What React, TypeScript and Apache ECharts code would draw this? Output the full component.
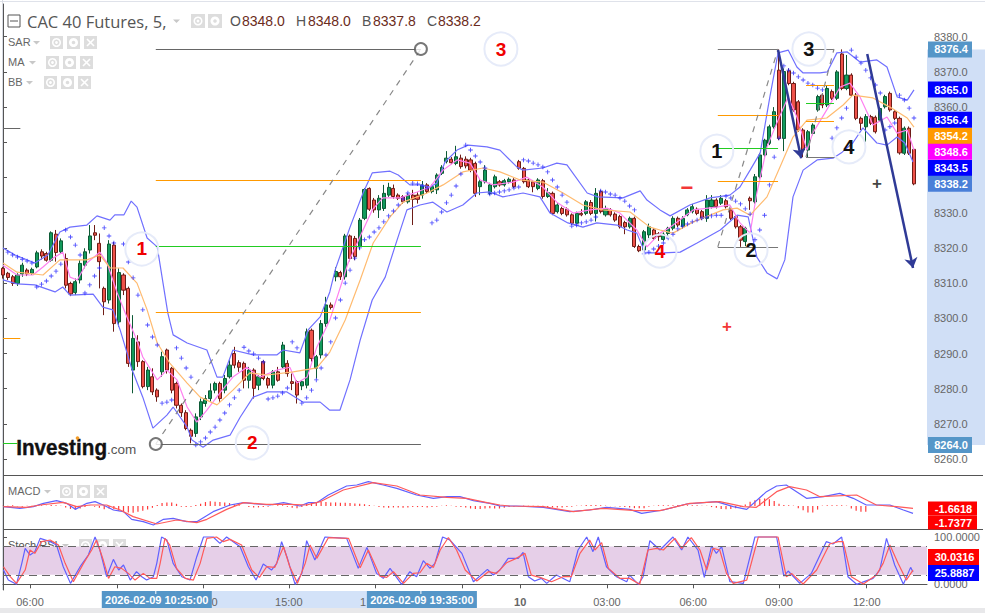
import React, { useEffect, useRef } from "react";
import * as echarts from "echarts";

// one candle = one slot on the time axis: [open, close, low, high]
const candles = [
[8314.2,8312.3,8311.3,8314.6],[8312.8,8311.6,8310.9,8313.2],[8311.8,8309.9,8309.2,8312.3],[8309.9,8312.3,8309.2,8312.8],[8312.6,8315.1,8311.8,8315.8],
[8313.7,8312.6,8312.0,8314.2],[8312.8,8313.9,8312.3,8314.4],[8314.6,8318.6,8314.2,8319.2],[8318.9,8317.7,8316.7,8319.6],[8318.4,8316.5,8316.1,8318.9],
[8316.5,8324.3,8316.1,8324.7],[8323.9,8318.7,8316.1,8325.1],[8318.9,8322.0,8318.4,8322.7],[8317.0,8309.4,8308.5,8318.4],[8309.9,8306.9,8306.3,8310.4],
[8307.3,8310.4,8306.6,8311.3],[8310.9,8315.6,8309.9,8316.5],[8315.1,8318.9,8314.2,8319.9],[8319.4,8323.4,8318.4,8326.5],[8324.3,8323.6,8322.2,8326.5],
[8321.3,8316.1,8308.5,8324.1],[8308.5,8304.7,8300.9,8309.0],[8305.2,8321.1,8304.2,8322.2],[8320.8,8298.5,8296.2,8321.7],[8299.0,8313.0,8297.6,8314.2],
[8312.3,8308.0,8306.6,8312.8],[8308.5,8287.2,8286.2,8309.0],[8285.3,8294.3,8278.7,8300.9],[8293.3,8287.7,8286.2,8295.2],[8287.7,8280.6,8280.1,8288.1],
[8280.6,8285.3,8279.6,8286.2],[8283.4,8279.1,8278.2,8285.8],[8279.6,8277.7,8276.3,8280.1],[8284.8,8289.1,8283.4,8290.5],[8291.0,8285.3,8284.3,8291.4],
[8285.8,8279.6,8278.7,8286.2],[8281.5,8275.3,8274.4,8282.0],[8275.3,8273.2,8272.0,8275.8],[8273.2,8268.7,8268.2,8273.9],[8268.2,8266.5,8264.5,8268.7],
[8267.3,8272.0,8266.3,8273.0],[8272.0,8276.3,8271.1,8277.2],[8275.8,8277.2,8274.9,8278.2],[8277.2,8279.4,8276.3,8281.5],[8279.6,8281.5,8278.7,8282.0],
[8281.5,8277.2,8276.3,8282.0],[8279.6,8282.9,8278.7,8283.9],[8283.4,8286.7,8282.9,8288.1],[8290.0,8286.7,8285.8,8291.9],[8287.4,8286.1,8284.8,8288.1],
[8287.2,8282.4,8280.1,8287.7],[8282.4,8285.3,8280.1,8286.2],[8285.3,8280.1,8277.2,8285.8],[8281.0,8283.4,8279.6,8283.9],[8287.7,8282.9,8282.4,8288.1],
[8282.9,8281.0,8280.1,8283.4],[8281.0,8284.8,8280.1,8285.3],[8284.8,8282.4,8282.0,8286.2],[8286.2,8292.4,8285.8,8293.3],[8287.2,8284.3,8283.4,8288.1],
[8282.0,8281.5,8279.6,8284.3],[8282.0,8278.2,8275.8,8282.4],[8280.8,8282.0,8279.6,8282.4],[8281.0,8296.2,8280.1,8297.1],[8296.6,8288.6,8287.7,8297.1],
[8285.8,8289.1,8282.9,8289.6],[8289.6,8298.5,8288.6,8299.5],[8298.5,8303.8,8297.6,8306.1],[8303.8,8303.1,8302.5,8304.5],[8311.8,8313.3,8310.5,8314.5],
[8313.0,8311.8,8310.9,8313.5],[8311.8,8323.4,8311.0,8324.0],[8323.4,8317.0,8316.2,8323.8],[8322.7,8317.5,8316.5,8323.4],[8320.4,8327.9,8319.5,8328.5],
[8328.4,8336.6,8327.9,8337.0],[8336.9,8331.0,8330.5,8337.2],[8333.6,8330.8,8330.0,8334.2],[8330.8,8334.1,8328.5,8335.0],[8331.2,8335.5,8330.5,8337.9],
[8335.0,8337.2,8334.5,8338.5],[8336.9,8334.6,8334.0,8338.0],[8335.0,8334.1,8333.6,8335.5],[8334.6,8333.1,8332.5,8335.0],[8333.1,8335.0,8332.6,8335.5],
[8335.0,8333.8,8326.5,8336.5],[8335.0,8333.8,8332.6,8335.8],[8335.0,8337.9,8334.0,8339.0],[8337.9,8336.0,8335.5,8338.4],[8336.0,8337.4,8335.5,8338.0],
[8336.5,8340.7,8335.3,8341.2],[8341.2,8342.9,8340.7,8343.5],[8344.5,8345.5,8344.0,8347.5],[8345.2,8344.2,8343.8,8345.8],[8344.0,8345.9,8343.5,8349.0],
[8345.5,8343.1,8342.5,8346.5],[8345.2,8343.3,8342.6,8346.0],[8345.0,8342.1,8341.5,8345.6],[8344.0,8335.5,8334.5,8344.5],[8337.4,8338.8,8335.0,8339.5],
[8338.8,8342.1,8338.3,8343.5],[8335.5,8337.9,8335.0,8338.5],[8337.4,8340.2,8336.9,8340.8],[8338.8,8337.9,8337.4,8339.3],[8337.9,8339.1,8337.4,8339.6],
[8338.8,8339.5,8338.3,8340.0],[8339.3,8337.4,8337.0,8339.8],[8344.5,8342.6,8342.2,8345.0],[8342.6,8338.8,8338.3,8343.0],[8339.3,8337.4,8337.0,8339.8],
[8338.8,8337.4,8335.8,8339.3],[8336.9,8339.3,8336.4,8339.8],[8339.1,8334.6,8334.0,8339.6],[8334.6,8335.7,8334.2,8337.0],[8335.5,8329.8,8329.3,8336.0],
[8330.3,8332.2,8329.8,8332.7],[8331.2,8329.8,8329.3,8331.7],[8331.0,8329.4,8328.9,8331.5],[8329.4,8327.0,8326.5,8329.8],[8327.0,8329.8,8326.9,8330.3],
[8329.8,8329.4,8329.0,8331.0],[8329.8,8333.1,8329.3,8333.6],[8332.9,8329.8,8329.3,8333.6],[8329.8,8335.5,8327.5,8337.0],[8336.0,8330.3,8329.8,8336.5],
[8329.4,8331.0,8328.9,8332.0],[8330.8,8329.4,8328.9,8331.3],[8329.6,8327.9,8327.4,8330.1],[8328.9,8326.0,8325.5,8329.4],[8327.2,8326.0,8323.9,8327.7],
[8326.0,8328.4,8325.5,8328.9],[8328.4,8320.4,8320.0,8328.9],[8320.4,8319.2,8318.8,8320.9],[8319.4,8324.6,8318.5,8325.1],[8323.7,8326.0,8322.7,8326.9],
[8325.1,8322.7,8322.2,8325.6],[8324.0,8323.2,8322.0,8324.5],[8322.4,8323.9,8322.0,8324.4],[8324.1,8325.6,8323.5,8326.0],[8325.6,8328.4,8325.0,8329.0],
[8328.4,8326.5,8325.9,8328.9],[8326.0,8328.4,8325.5,8329.0],[8329.4,8330.8,8329.0,8331.3],[8330.3,8331.7,8329.8,8332.5],[8331.0,8329.8,8329.3,8331.5],
[8330.3,8328.4,8327.9,8330.8],[8328.4,8333.6,8327.4,8335.0],[8331.7,8333.6,8331.2,8335.0],[8333.6,8331.7,8331.2,8334.1],[8332.7,8334.1,8332.2,8335.0],
[8333.4,8331.7,8331.2,8333.9],[8330.8,8328.4,8327.9,8331.3],[8328.9,8326.0,8325.5,8329.4],[8326.0,8322.2,8320.3,8326.5],[8321.8,8325.6,8320.5,8326.0],
[8334.1,8333.4,8330.8,8334.6],[8333.1,8340.2,8332.6,8341.0],[8340.2,8346.4,8339.7,8347.0],[8346.4,8350.6,8345.9,8351.0],[8349.7,8354.4,8349.2,8355.0],
[8354.4,8358.7,8353.9,8360.0],[8370.5,8351.1,8350.6,8376.4],[8351.1,8370.1,8347.5,8371.0],[8370.3,8366.7,8366.2,8371.0],[8366.7,8359.2,8358.7,8367.2],
[8361.5,8353.5,8353.0,8362.0],[8353.5,8347.8,8345.8,8354.0],[8347.8,8353.0,8345.8,8353.5],[8352.5,8354.9,8352.0,8355.4],[8359.2,8363.0,8358.7,8363.5],
[8363.4,8360.6,8359.7,8364.0],[8360.6,8365.3,8360.0,8366.0],[8364.4,8362.5,8362.0,8365.0],[8362.5,8370.0,8362.0,8370.5],[8375.1,8365.3,8364.8,8376.4],
[8365.3,8369.1,8364.8,8374.8],[8369.1,8363.4,8363.0,8369.6],[8363.4,8356.8,8356.3,8364.0],[8356.8,8355.4,8353.5,8357.3],[8354.4,8357.3,8350.1,8358.0],
[8357.3,8355.4,8354.9,8357.8],[8357.1,8353.0,8352.5,8357.6],[8356.3,8359.6,8355.8,8360.0],[8360.1,8363.0,8359.6,8363.5],[8363.9,8359.2,8358.7,8364.4],
[8358.7,8356.8,8356.3,8359.2],[8356.8,8347.0,8346.5,8357.3],[8346.9,8354.0,8346.4,8354.5],[8354.0,8346.9,8346.4,8354.5],[8348.0,8338.2,8337.8,8348.0],
];

const sarValues = [
null,8318.8,8318.0,8317.4,8316.8,8316.3,8315.7,8308.9,8309.7,8310.6,8312.0,8313.4,8315.4,8325.1,8323.1,8320.8,8318.0,8307.2,8309.5,8312.0,
8314.3,8325.7,8323.4,8321.4,null,8321.1,8316.0,8311.5,8306.6,8302.4,8298.1,8294.7,8292.4,8275.9,8276.2,8276.8,8291.6,8288.7,8285.9,8283.3,
8264.0,8264.9,8266.0,8267.7,8269.1,8271.1,8273.1,8275.4,8277.4,8279.6,8291.8,8290.7,8289.9,8288.7,8287.6,8277.1,8277.4,8277.9,8278.8,8280.2,
8293.3,8291.6,8275.9,8277.4,8279.6,8282.5,8285.9,8289.6,8293.3,8300.1,8305.2,8310.0,8313.7,8317.1,8320.0,8322.3,8323.1,8324.5,8325.7,8327.4,
8329.1,8330.5,8332.2,8333.9,8335.6,8338.4,8338.2,8337.6,8337.0,8327.1,8327.9,8330.2,8332.8,8335.0,8337.6,8341.0,8349.2,8347.8,8346.1,8344.4,
8342.7,8335.3,8335.6,8335.9,8336.2,8336.5,8337.0,8337.3,8345.0,8344.7,8344.1,8343.6,8343.0,8341.6,8339.3,8337.3,8335.0,8333.0,8326.2,8326.5,
8327.1,8327.4,8327.9,8328.8,8336.2,8335.9,8335.3,8335.0,8334.2,8333.3,8331.9,8330.8,null,8318.3,8318.8,8319.7,8320.5,8321.4,8322.8,8323.9,
8325.4,8326.2,8326.8,8327.4,8327.9,8328.5,8328.8,8329.1,8329.3,8329.3,8334.7,8334.2,8333.3,8332.5,8331.1,8329.6,8322.3,8325.1,8329.3,8337.9,
8345.8,8351.2,8371.7,8370.5,8369.7,8368.6,8367.7,8366.8,8366.3,8365.4,8364.9,null,8351.2,8354.1,8356.9,8359.7,8376.2,8374.2,8372.5,8370.5,
8368.3,8366.3,8364.0,8353.5,8354.4,8355.5,8363.4,8362.0,8359.7,8356.9,
];

const bbUpper = [[0,8320.0],[2.5,8318.0],[6.6,8315.7],[9.3,8318.0],[11.8,8324.5],[13.9,8325.9],[17.4,8326.5],[19.5,8329.1],[22.2,8327.9],[23.2,8329.4],[25.1,8329.4],[26.6,8333.3],[27.8,8331.6],[29.9,8322.8],[32,8320.3],[33.2,8310.0],[34.2,8301.5],[35.3,8295.3],[38.2,8293.0],[42.3,8291.0],[44.4,8283.3],[45.6,8283.3],[47.7,8291.0],[51.9,8289.6],[56.8,8289.6],[58.1,8291.0],[61.6,8290.2],[63.3,8296.7],[65.8,8300.4],[67.8,8307.5],[68.9,8313.7],[72,8325.9],[74.7,8335.6],[76.6,8341.3],[80.3,8341.8],[82,8340.7],[84.4,8337.9],[86.5,8337.9],[88.6,8337.3],[90,8338.4],[91.7,8344.4],[94.2,8347.8],[96.5,8349.2],[100.4,8348.7],[103.1,8347.8],[106.6,8343.0],[107.9,8342.1],[112,8342.7],[114.9,8344.1],[117,8343.6],[121.2,8335.6],[123.4,8334.5],[128.6,8334.2],[132.2,8336.2],[133.6,8333.6],[136.3,8330.8],[138.4,8329.1],[142.5,8332.2],[146.7,8334.2],[150.8,8335.0],[152.9,8337.3],[155,8342.1],[157.1,8347.0],[159.1,8362.9],[160.8,8375.4],[162.9,8376.2],[164.7,8371.4],[166,8369.7],[169.5,8369.7],[171,8370.0],[173,8375.4],[175.1,8375.7],[177.8,8372.8],[181.3,8373.4],[183.4,8371.4],[185.5,8362.9],[187.6,8362.0],[189,8364.9]];

const bbLower = [[0,8310.9],[2.9,8309.8],[6.6,8309.5],[10.8,8307.5],[12.4,8308.9],[13.9,8306.6],[18.7,8306.9],[20.7,8303.2],[22.8,8302.4],[24.3,8296.7],[26.8,8285.3],[29,8277.6],[31.1,8268.8],[34,8272.5],[35.3,8274.8],[38.2,8269.1],[39.2,8265.4],[41.5,8263.4],[43.6,8265.4],[47.1,8266.8],[49.2,8271.9],[51.9,8277.6],[54.8,8279.1],[58.9,8279.1],[62.2,8276.2],[65.8,8276.2],[67.8,8273.9],[69.9,8273.9],[72,8282.5],[74.1,8293.8],[76.6,8305.2],[79.3,8311.7],[81.3,8320.3],[83.8,8330.8],[86.5,8332.2],[89.2,8333.0],[92.1,8330.2],[95.4,8332.2],[98.3,8335.6],[101,8335.9],[103.7,8334.5],[107.9,8335.6],[111.4,8334.5],[113.5,8329.9],[117.2,8327.1],[120.3,8325.9],[123.2,8327.1],[127.4,8326.5],[129.5,8325.1],[131.5,8324.2],[133.2,8318.6],[136.9,8318.6],[140.5,8318.8],[144,8321.4],[148.8,8325.1],[152.3,8329.3],[154.6,8328.8],[156.4,8317.4],[158.5,8312.9],[160.6,8311.2],[162.2,8316.6],[163.9,8334.5],[166,8342.1],[168.9,8345.0],[172.2,8345.5],[174.1,8347.2],[176.3,8349.8],[178.4,8354.1],[181.3,8349.8],[183.4,8349.2],[185.5,8351.5],[187.1,8349.8],[188.8,8344.4]];

const maFast = [[0,8315.1],[2.9,8312.3],[6.2,8312.3],[8.3,8314.6],[10.4,8317.1],[12.4,8318.8],[13.9,8311.7],[15.4,8310.9],[17.4,8315.7],[20.1,8318.8],[21.6,8315.7],[23.7,8307.2],[25.7,8300.4],[27.8,8293.8],[29,8289.0],[32,8282.5],[34,8285.3],[36.1,8282.5],[38.2,8274.8],[40.2,8270.5],[42.3,8273.9],[45,8278.8],[47.7,8283.3],[50.6,8286.1],[53.3,8283.3],[56.8,8285.3],[59.5,8286.1],[61,8281.6],[63.1,8283.3],[65.1,8291.8],[67.8,8299.5],[71.6,8315.7],[74.7,8325.1],[76.6,8330.8],[78.8,8334.2],[82.4,8334.2],[85.9,8335.9],[88.6,8337.3],[91.3,8342.1],[94.2,8345.0],[96.9,8344.1],[99,8339.3],[101.7,8337.9],[105.8,8338.7],[108.7,8340.1],[112,8337.3],[114.9,8333.0],[118.3,8329.9],[121.8,8330.8],[125.3,8331.3],[128,8329.9],[131.5,8325.1],[133.6,8320.3],[136.3,8324.2],[138.4,8325.9],[143.2,8330.8],[148.1,8331.6],[150.8,8332.2],[152.9,8327.1],[155,8324.2],[156.4,8335.6],[158.5,8348.7],[160.8,8356.3],[162.9,8362.9],[164.7,8357.2],[166.8,8347.8],[168,8352.6],[170.9,8359.2],[173.7,8365.7],[175.7,8366.8],[177.8,8362.9],[180.5,8354.9],[183.4,8357.2],[185.5,8352.6],[187.6,8353.5],[189,8347.8]];

const maSlow = [[0,8315.7],[2.9,8313.1],[8.3,8312.3],[11.8,8316.6],[13.9,8316.6],[17.4,8316.6],[20.1,8318.0],[22.2,8314.3],[24.9,8314.3],[27.8,8310.0],[29.9,8302.4],[32,8293.0],[34.6,8287.3],[38.2,8281.6],[40.9,8277.6],[44.4,8275.4],[47.7,8279.6],[51.2,8284.5],[54.8,8283.9],[60.2,8284.8],[65.1,8285.9],[67.8,8290.4],[71,8299.5],[74.1,8310.9],[76.8,8321.4],[80.3,8328.8],[83,8333.0],[88,8335.6],[91.3,8337.9],[95.4,8341.6],[99.6,8342.7],[103.1,8341.6],[107.3,8339.3],[112,8338.7],[116.2,8335.6],[120.3,8332.2],[124.5,8330.8],[130.1,8330.2],[134.2,8325.9],[136.3,8325.1],[139,8324.2],[143.2,8327.4],[149.4,8330.8],[152.3,8331.3],[155,8329.3],[158.5,8334.5],[161.2,8343.0],[163.9,8351.5],[166.8,8356.3],[170.9,8356.9],[174.3,8360.6],[176.3,8363.4],[180.5,8362.6],[184,8360.0],[187.6,8356.9],[189,8354.3]];

const macdLine = [[0.1,-0.19],[3.5,-0.65],[6.3,-0.19],[8.4,0.74],[11.1,1.48],[13.2,0.74],[15,-0.93],[17.4,0.74],[19.1,1.2],[20.8,0.28],[22.9,-1.11],[25,-1.57],[26.7,-3.7],[29.1,-4.35],[31.2,-5.28],[33.3,-3.7],[35.3,-3.43],[38.1,-4.35],[40.2,-4.35],[43.6,-1.57],[47.1,0.28],[49.9,0.93],[52.6,0.56],[55.4,0.28],[58.2,0.93],[61.6,0],[63.4,0.93],[65.1,0.93],[67.5,3.06],[71.3,5.56],[73.4,5.83],[75.8,6.76],[78.9,5.83],[81.7,4.91],[85.8,3.06],[89.3,2.13],[92.1,2.59],[94.8,2.59],[97.6,1.48],[101,0.74],[103.1,0],[106.5,0],[112.1,-0.37],[117.6,-1.57],[121.7,-1.11],[125.2,-0.37],[130,-0.93],[132.5,-2.04],[137,-1.11],[141.8,0.56],[148,1.2],[151.5,-0.19],[154.3,-0.93],[158.4,3.98],[160.5,5.56],[162.5,5.83],[166.7,2.13],[170.2,2.59],[173.6,3.52],[176.4,2.13],[179.1,0.28],[184,0.28],[186.8,-1.11],[188.8,-2.04]];

const macdSignal = [[0.1,-0.19],[4.9,-0.37],[7.7,0.28],[12.5,1.02],[15.3,-0.19],[18.1,0.28],[21.5,0.28],[24.3,-1.11],[27,-2.96],[31.9,-5],[36,-3.89],[40.2,-4.63],[42.3,-3.7],[46.4,-0.93],[49.9,0.93],[54.7,0.46],[59.5,0.46],[63,0.28],[65.8,1.2],[70.6,4.44],[76.8,6.48],[81.7,5.56],[86.5,3.06],[92.1,2.41],[96.2,2.13],[100.4,0.93],[103.1,0.28],[105.1,0],[112.1,-0.19],[118.3,-1.57],[124.5,-0.65],[131.4,-1.3],[136.3,-1.3],[142.5,0.74],[148.7,1.2],[153.6,-0.19],[156.3,-0.37],[160.5,3.98],[163.2,5.37],[166.7,4.44],[169.5,2.59],[177.1,3.06],[181.2,0.28],[185.4,-0.19],[188.8,-0.65]];

const macdHist = [
0.1,0.1,0.2,-0.1,-0.2,0.1,0.1,0.2,0.2,0.1,0.3,0.2,0.1,-0.4,-0.8,-1,-0.7,-0.3,0.1,-0.2,
-0.5,-0.9,-0.7,-0.9,-1.3,-1.5,-1.8,-1.9,-1.6,-1.3,-1,-0.5,0.3,0.8,1,1,0.6,-0.2,-0.3,-0.2,
0.3,0.6,1.1,1.3,1.2,1.1,1,0.8,0.4,0.2,0,-0.3,-0.4,-0.4,-0.3,-0.2,0.1,0.2,0.2,-0.2,
-0.5,-0.6,-0.3,0.7,0.9,1,1.2,1.1,1,1,0.9,0.9,0.8,0.7,0.6,0.5,0.3,0.1,-0.3,-0.4,
-0.5,-0.4,-0.4,-0.5,-0.4,-0.3,-0.3,-0.3,-0.4,-0.3,-0.2,0.1,0.2,0.1,-0.2,-0.3,-0.4,-0.7,-0.8,-0.8,
-0.7,-0.6,-0.7,-0.7,-0.5,-0.3,-0.2,-0.1,0.1,0.1,0.1,0.1,0.1,-0.3,-0.4,-0.4,-0.4,-0.3,-0.2,0.1,
0.1,0.3,0.3,0.3,0.2,0.1,-0.1,-0.1,-0.2,-0.3,-0.4,-0.6,-0.6,-0.6,-0.2,0.1,0.2,0.2,0.2,0.2,
0.3,0.2,0.2,0.2,0.2,0.1,0.1,-0.3,-0.5,-0.8,-0.9,-0.8,-0.6,-0.2,0.4,1.2,1.6,2,2.1,1.9,
1.4,0.6,0.3,0.2,0.1,-0.6,-1.2,-1.8,-1.8,-1,0.1,0.2,0.2,0.2,0.2,0.1,-0.7,-1.3,-1.6,-1.6,
];

const stochK = [[0.1,30.2],[1.1,9],[2.8,0],[3.9,44.3],[4.6,76],[5.6,61.9],[6.6,69],[7.7,97.1],[9.8,90.1],[11.1,83],[12.5,37.2],[14,2],[16,37.2],[17.7,61.9],[19.1,100],[20.1,72.5],[21.5,16.1],[22.9,52.7],[24,30.2],[25,40.8],[26.4,9],[27.7,26.7],[28.8,16.1],[29.8,9],[31.2,16.1],[31.9,44.3],[32.9,100],[34,93.6],[35.3,44.3],[37.1,16.1],[38.8,9],[40.2,58.4],[41.6,100],[43.6,100],[45,86.6],[46.4,100],[49.2,79.5],[50.9,37.2],[52.5,9],[54,42.9],[55.7,30.2],[56.8,44.3],[57.8,90.1],[58.9,58.4],[60.6,0],[62,23.1],[63,92.2],[64.7,51.3],[66.8,100],[71.3,97.1],[73.7,33.7],[75.5,78.1],[77.5,23.1],[78.9,12.6],[80.3,33.7],[82.7,0],[84.4,26.7],[85.8,16.1],[87.2,49.9],[88.6,33.7],[89.6,44.3],[91.2,100],[92.7,93.6],[95.2,65.4],[97.6,5.5],[100.5,31.6],[101.7,19.6],[103.1,30.2],[104.8,54.9],[106.9,54.9],[107.9,67.5],[109,16.1],[110.3,6.9],[111.7,12.6],[112.8,2],[114.8,19.6],[117.6,5.5],[119.3,72.5],[121.1,100],[122.4,69],[123.5,100],[125.2,37.2],[127.3,16.1],[129.4,5.5],[130,19.6],[131.8,0],[132.8,16.1],[134.2,92.2],[136.3,72.5],[139,100],[140.8,72.5],[142.1,100],[144.2,72.5],[145.5,14.7],[147,80.9],[148,65.4],[149.1,79.5],[150.8,5.5],[153.6,2],[156,100],[160.5,100],[162,17.5],[162.9,28.1],[165.3,2],[167.7,23.1],[170.8,90.1],[172.2,85.2],[174,100],[175.3,16.1],[177.1,0],[180.5,12.6],[181.9,30.2],[183.3,97.1],[185,40.8],[186.8,0],[188.3,35.8],[188.8,25.9]];

const stochD = [[0.1,37.2],[1.5,16.1],[2.8,2],[4.6,30.2],[5.6,72.5],[6.6,65.4],[8,90.1],[9.8,93.6],[11.5,83],[12.9,44.3],[14.6,5.5],[16.7,44.3],[18.4,72.5],[19.4,93.6],[20.8,51.3],[21.9,12.6],[23.2,37.2],[24.6,33.7],[26,23.1],[27.4,9],[29.1,23.1],[30.5,12.6],[31.9,12.6],[32.6,44.3],[33.6,97.1],[34.6,83],[36,33.7],[37.8,12.6],[39.5,9],[40.9,44.3],[42.3,97.1],[44.3,100],[45.7,90.1],[47.1,95],[49.5,83],[51.6,30.2],[53.2,14.7],[54.7,37.2],[56.4,35.8],[58.2,79.5],[59.5,37.2],[61.1,2],[62.7,44.3],[63.7,83],[65.1,54.9],[67.5,98.5],[71.7,97.1],[74.1,35.1],[75.8,72.5],[78.2,17.5],[79.6,14.7],[81,26.7],[83.1,2],[85.1,23.1],[86.5,24.5],[87.9,44.3],[89.3,35.8],[90.7,72.5],[92.4,99],[94.1,72.5],[95.9,30.2],[98.3,6.9],[100.7,26.7],[102.4,23.1],[104.5,45.7],[106.5,54.9],[108.3,65.4],[109.6,19.6],[111.4,14.7],[113.8,5.5],[116.2,16.1],[117.9,16.1],[119.7,65.4],[121.7,93.6],[122.8,72.5],[124.2,88],[125.6,33.7],[128,12.6],[130,12.6],[132.1,0],[133.8,72.5],[135.6,76],[137,72.5],[139.4,97.1],[140.8,76],[142.8,98.5],[144.6,72.5],[146,30.2],[147.3,76],[148.7,72.5],[150.1,23.1],[151.5,2],[154.3,9],[156.7,100],[160.8,100],[162.5,16.1],[163.6,23.1],[166,0.6],[168.8,30.2],[171.5,85.2],[173.3,90.1],[174.3,90.1],[176,16.1],[178.5,0.6],[181.2,19.6],[182.6,44.3],[184,83],[185.7,44.3],[187.4,9],[188.8,30.0]];

const priceTicks = [8380,8370,8360,8350,8340,8330,8320,8310,8300,8290,8280,8270,8260];
// 8350 and 8340 lie wholly under the price tags in the reference, so no label is drawn for them
const priceLabels = [8380,8370,8360,8330,8320,8310,8300,8290,8280,8270,8260];
const stochTicks = [0,100];
const timeTickSlots = [5.6,23.6,41.5,59.3,77.3,95.2,107.3,125.3,143.2,161,179.2];
// visible pieces of the time labels; "0" and "1" are what shows past the two date tags
const timeLabelSlots = [5.6,43.9,59.3,74.7,107.3,125.3,143.2,161,179.2];
const timeLabels = ["06:00","0","15:00","1","{b|10}","03:00","06:00","09:00","12:00"];

// [first slot, last slot, price, colour]
const levelLines: [number, number, number, string][] = [
  [31.7,86.7,8376.5,"#666"],[31.7,86.7,8339.3,"#ff9900"],[31.7,86.7,8320.5,"#22cc22"],[31.7,86.7,8301.8,"#ff9900"],[31.7,86.7,8264.3,"#666"],
  [0,3.6,8354.1,"#666"],[0,3.6,8294.4,"#ff9900"],[0,3,8264.6,"#22cc22"],
  [148.3,160.8,8376.5,"#777"],[148.3,160.8,8357.8,"#ff9900"],[148.3,160.8,8348.4,"#22cc22"],[148.3,160.8,8339,"#ff9900"],[148.3,160.8,8320.3,"#777"],
  [166.6,172.4,8376.5,"#777"],[166.6,172.4,8366.3,"#ff9900"],[166.6,172.4,8361.2,"#22cc22"],[166.6,172.4,8356.1,"#ff9900"],[166.6,172.4,8345.8,"#777"],
];
const dashedTrends = [
  [[31.7,8264.3],[86.7,8376.5]],
  [[148.3,8320.3],[160.8,8376.5]],
  [[166.6,8345.8],[172.4,8376.5]],
];
const arrows = [
  [[160.8,8376.2],[165.6,8345.5]],
  [[179.3,8375.1],[188.8,8314.3]],
];
const handles = [[31.7,8264.3],[86.7,8376.5]];
// [slot, price, text, colour, font size]
const waveMarks: [number, number, string, string, number][] = [
  [103.3,8376.5,"3","#f00000",19],[28.8,8319.7,"1","#f00000",19],[51.7,8264.6,"2","#f00000",19],[136.3,8319.1,"4","#f00000",19],
  [148.1,8347.5,"1","#111",20],[155.2,8319.4,"2","#111",20],[167.2,8376.5,"3","#111",20],[175.5,8348.7,"4","#111",20],
];
const signMarks: [number, number, string, string, number][] = [
  [141.9,8337.3,"−","#f00000",22],[150.2,8297.8,"+","#f00000",17],[181.3,8338.2,"+","#111",17],
];
// [level the tag sits at, text, colour]
const priceTags: [number, string, string][] = [
  [8376.4,"8376.4","#5596c8"],[8365,"8365.0","#0000ff"],[8356.4,"8356.4","#0000ff"],[8351.8,"8354.2","#ff9900"],
  [8347.3,"8348.6","#ff00ff"],[8342.7,"8343.5","#0000ff"],[8338.2,"8338.2","#4a7fd8"],[8264,"8264.0","#5596c8"],
];
const macdTags: [number, string, string][] = [[-0.7,"-1.6618","#ff0000"],[-4.6,"-1.7377","#ff0000"]];
const stochTags: [number, string, string][] = [[57.7,"30.0316","#ff0000"],[23.9,"25.8887","#0000ff"]];
const rangeBand = [8376.4,8264];
const crossSlots = [31.7,86.7];
const crossLabels = ["2026-02-09 10:25:00","2026-02-09 19:35:00"];

const FONT = '"Liberation Sans", Arial, sans-serif';
const plusPath = "path://M2 0h1v2h2v1H3v2H2V3H0V2h2z";

function line(name: string, data: number[][], color: string, width: number, axis: number) {
  return { type: "line", name, data, xAxisIndex: axis, yAxisIndex: axis, symbol: "none", silent: true, z: 3, lineStyle: { color, width } };
}

function tagSeries(rows: [number, string, string][], axis: number, w: number, h: number) {
  return {
    type: "custom", xAxisIndex: axis, yAxisIndex: axis, z: 20, silent: true, clip: false,
    data: rows.map((r, i) => [0, r[0], i]),
    renderItem: (params: any, api: any) => {
      const row = rows[params.dataIndex];
      const p = api.coord([0, api.value(1)]);
      const right = params.coordSys.x + params.coordSys.width;
      return {
        type: "group",
        children: [
          { type: "rect", shape: { x: right + 1, y: p[1] - h / 2, width: w, height: h }, style: { fill: row[2] } },
          { type: "text", x: right + 1 + w / 2 + 1, y: p[1], style: { text: row[1], fill: "#fff", font: `bold 11px ${FONT}`, textAlign: "center", textVerticalAlign: "middle" } },
        ],
      };
    },
  };
}

function toolIcons(x: number, y: number) {
  const s = 13;
  const box = (bx: number) => ({ type: "rect", shape: { x: bx, y, width: s, height: s }, style: { fill: "#dddddd" } });
  const cy = y + s / 2;
  return [
    box(x), box(x + 17), box(x + 34),
    { type: "ring", shape: { cx: x + s / 2, cy, r: 4.5, r0: 3 }, style: { fill: "#fff" } },
    { type: "circle", shape: { cx: x + s / 2, cy, r: 1.4 }, style: { fill: "#fff" } },
    { type: "ring", shape: { cx: x + 17 + s / 2, cy, r: 4.5, r0: 1.8 }, style: { fill: "#fff" } },
    { type: "line", shape: { x1: x + 37, y1: y + 3, x2: x + 44, y2: y + 10 }, style: { stroke: "#fff", lineWidth: 1.6 } },
    { type: "line", shape: { x1: x + 44, y1: y + 3, x2: x + 37, y2: y + 10 }, style: { stroke: "#fff", lineWidth: 1.6 } },
  ];
}
const tri = (x: number, y: number) => ({ type: "polygon", shape: { points: [[x, y], [x + 7, y], [x + 3.5, y + 3.5]] }, style: { fill: "#c8c8c8" } });
const txt = (x: number, y: number, text: string, fill: string, size: number, weight = "normal", family = FONT) => ({
  type: "text", x, y, style: { text, fill, font: `${weight} ${size}px ${family}`, textVerticalAlign: "middle" },
});
const sep = (x1: number, y1: number, x2: number, y2: number, stroke: string) => ({ type: "line", shape: { x1, y1, x2, y2 }, style: { stroke, lineWidth: 1 } });

export default function App() {
  const ref = useRef<HTMLDivElement>(null);
  useEffect(() => {
    document.body.style.margin = "0";
    document.body.style.overflow = "hidden";
    const chart = echarts.init(ref.current!, undefined, { renderer: "svg" });
    const xBase = { type: "value", min: 0, max: 191.7, show: false };
    const option: any = {
      animation: false,
      backgroundColor: "#ffffff",
      textStyle: { fontFamily: FONT },
      grid: [
        { left: 3, right: 58, top: 4, height: 471 },
        { left: 3, right: 58, top: 475, height: 54 },
        { left: 3, right: 58, top: 529, height: 61 },
      ],
      xAxis: [
        { ...xBase, gridIndex: 0 },
        { ...xBase, gridIndex: 1 },
        {
          type: "value", gridIndex: 2, min: 0, max: 191.7, z: 1,
          axisLine: { show: true, lineStyle: { color: "#555" } },
          axisTick: { show: true, customValues: timeTickSlots, length: 4, lineStyle: { color: "#555" } },
          axisLabel: {
            show: true, customValues: timeLabelSlots, color: "#666", fontSize: 11, fontFamily: FONT, margin: 6,
            formatter: (v: number) => timeLabels[timeLabelSlots.indexOf(v)] ?? "",
            rich: { b: { fontWeight: "bold", color: "#666", fontSize: 11, fontFamily: FONT } },
          },
          splitLine: { show: false },
        },
      ],
      yAxis: [
        {
          type: "value", gridIndex: 0, position: "right", min: 8255.49, max: 8389.29, z: 1, scale: true,
          axisLine: { show: true, lineStyle: { color: "#555" } },
          axisTick: { show: true, customValues: priceTicks, length: 4, lineStyle: { color: "#555" } },
          axisLabel: { show: true, customValues: priceLabels, color: "#666", fontSize: 11, fontFamily: FONT, margin: 7, formatter: (v: number) => v.toFixed(1) },
          splitLine: { show: false },
        },
        {
          type: "value", gridIndex: 1, position: "right", min: -6.39, max: 8.61, z: 1,
          axisLine: { show: true, lineStyle: { color: "#555" } }, axisTick: { show: false }, axisLabel: { show: false }, splitLine: { show: false },
        },
        {
          type: "value", gridIndex: 2, position: "right", min: -12, max: 116.9, z: 1,
          axisLine: { show: true, lineStyle: { color: "#555" } },
          axisTick: { show: true, customValues: stochTicks, length: 4, lineStyle: { color: "#555" } },
          axisLabel: { show: true, customValues: stochTicks, color: "#666", fontSize: 11, fontFamily: FONT, margin: 7, formatter: (v: number) => v.toFixed(4) },
          splitLine: { show: false },
        },
      ],
      series: [
        // pale bands behind the axes
        {
          type: "custom", xAxisIndex: 0, yAxisIndex: 0, z: 0, silent: true, clip: false, data: [[0, rangeBand[0], rangeBand[1]]],
          renderItem: (params: any, api: any) => {
            const a = api.coord([0, api.value(1)]), b = api.coord([0, api.value(2)]);
            const right = params.coordSys.x + params.coordSys.width;
            return { type: "rect", shape: { x: right, y: a[1], width: 58, height: b[1] - a[1] }, style: { fill: "#d0dff6" } };
          },
        },
        {
          type: "custom", xAxisIndex: 2, yAxisIndex: 2, z: 0, silent: true, clip: false, data: [[crossSlots[0], crossSlots[1]]],
          renderItem: (params: any, api: any) => {
            const a = api.coord([api.value(0), 0]), b = api.coord([api.value(1), 0]);
            const bottom = params.coordSys.y + params.coordSys.height;
            return { type: "rect", shape: { x: a[0], y: bottom + 1, width: b[0] - a[0], height: 17 }, style: { fill: "#d3e2f8" } };
          },
        },
        {
          type: "custom", xAxisIndex: 2, yAxisIndex: 2, z: 20, silent: true, clip: false, data: crossSlots.map((s) => [s, 0]),
          renderItem: (params: any, api: any) => {
            const a = api.coord([api.value(0), 0]);
            const bottom = params.coordSys.y + params.coordSys.height;
            return {
              type: "group",
              children: [
                { type: "rect", shape: { x: a[0] - 54, y: bottom + 1, width: 110, height: 17 }, style: { fill: "#5596c8" } },
                { type: "rect", shape: { x: a[0] - 0.5, y: bottom + 1, width: 1, height: 3 }, style: { fill: "#fff" } },
                { type: "text", x: a[0] + 1, y: bottom + 10, style: { text: crossLabels[params.dataIndex], fill: "#fff", font: `bold 11px ${FONT}`, textAlign: "center", textVerticalAlign: "middle" } },
              ],
            };
          },
        },
        // main pane
        {
          type: "candlestick", xAxisIndex: 0, yAxisIndex: 0, z: 2, barWidth: 3.6, silent: true,
          data: candles.map((c, i) => [i, c[0], c[1], c[2], c[3]]),
          itemStyle: { color: "#129a5c", color0: "#ee5249", borderColor: "#0d5a35", borderColor0: "#6e1c16", borderWidth: 1 },
        },
        line("BB upper", bbUpper, "#7070ff", 1.2, 0),
        line("BB lower", bbLower, "#7070ff", 1.2, 0),
        line("MA fast", maFast, "#ff80f0", 1.2, 0),
        line("MA slow", maSlow, "#ffbb70", 1.2, 0),
        {
          type: "scatter", name: "SAR", xAxisIndex: 0, yAxisIndex: 0, z: 4, silent: true, symbol: plusPath, symbolSize: 4.5,
          data: sarValues.map((v, i) => (v === null ? null : [i, v])).filter(Boolean),
          itemStyle: { color: "#2222ff" },
        },
        {
          type: "lines", coordinateSystem: "cartesian2d", xAxisIndex: 0, yAxisIndex: 0, z: 5, silent: true,
          data: [
            ...levelLines.map((l) => ({ coords: [[l[0], l[2]], [l[1], l[2]]], lineStyle: { color: l[3], width: 1, type: "solid", opacity: 1 } })),
            ...dashedTrends.map((d) => ({ coords: d, lineStyle: { color: "#888", width: 1.2, type: [6, 6], opacity: 1 } })),
          ],
        },
        {
          type: "lines", coordinateSystem: "cartesian2d", xAxisIndex: 0, yAxisIndex: 0, z: 6, silent: true, symbol: ["none", "arrow"], symbolSize: 10,
          lineStyle: { color: "#2f3a96", width: 2.5, opacity: 1 },
          data: arrows.map((a) => ({ coords: a })),
        },
        {
          type: "scatter", xAxisIndex: 0, yAxisIndex: 0, z: 7, silent: true, symbolSize: 12, data: handles,
          itemStyle: { color: "#fff", borderColor: "#555", borderWidth: 2 },
        },
        {
          type: "scatter", xAxisIndex: 0, yAxisIndex: 0, z: 7, silent: true, symbolSize: 33,
          itemStyle: { color: "rgba(255,255,255,0)", borderColor: "#e6ebf9", borderWidth: 2, opacity: 1 },
          data: waveMarks.map((m) => ({
            value: [m[0], m[1]],
            label: { show: true, position: "inside", formatter: m[2], color: m[3], fontSize: m[4], fontWeight: "bold", fontFamily: FONT },
          })),
        },
        {
          type: "scatter", xAxisIndex: 0, yAxisIndex: 0, z: 7, silent: true, symbolSize: 1, itemStyle: { color: "rgba(255,255,255,0)" },
          data: signMarks.map((m) => ({
            value: [m[0], m[1]],
            label: { show: true, position: "inside", formatter: m[2], color: m[3], fontSize: m[4], fontWeight: "bold", fontFamily: FONT },
          })),
        },
        tagSeries(priceTags, 0, 44, 16),
        // MACD pane
        {
          type: "bar", xAxisIndex: 1, yAxisIndex: 1, z: 2, silent: true, barWidth: 1.2,
          data: macdHist.map((v, i) => [i, v]), itemStyle: { color: "#ff3b3b" },
        },
        line("MACD", macdLine, "#6060ff", 1.2, 1),
        line("Signal", macdSignal, "#ff5a5a", 1.2, 1),
        tagSeries(macdTags, 1, 49, 14),
        // Stoch RSI pane
        {
          type: "line", xAxisIndex: 2, yAxisIndex: 2, data: stochK, symbol: "none", silent: true, z: 3, lineStyle: { color: "#6060ff", width: 1.2 },
          markArea: { silent: true, z: 1, itemStyle: { color: "#e6cfe8" }, data: [[{ yAxis: 80 }, { yAxis: 20 }]] },
          markLine: { silent: true, symbol: "none", label: { show: false }, lineStyle: { color: "#666", type: [8, 5], width: 1 }, data: [{ yAxis: 80 }, { yAxis: 20 }] },
        },
        line("%D", stochD, "#ff5a5a", 1.2, 2),
        tagSeries(stochTags, 2, 51, 16),
      ],
      graphic: [
        { type: "group", z: 50, silent: true, children: [
          sep(0, 1.5, 985, 1.5, "#dfe2ea"),
          sep(2.5, 0, 2.5, 590, "#d9dce4"),
          sep(3, 475.5, 983, 475.5, "#555"),
          sep(3, 529.5, 983, 529.5, "#555"),
          { type: "rect", shape: { x: 0, y: 608, width: 985, height: 5 }, style: { fill: "#e8e8ea" } },
          { type: "rect", shape: { x: 8, y: 15, width: 12, height: 12 }, style: { fill: "#fff", stroke: "#555", lineWidth: 1 } },
          sep(10, 21, 18, 21, "#555"),
          txt(27, 21, "CAC 40 Futures, 5,", "#555", 16.5, "normal", '"Open Sans", sans-serif'),
          tri(173, 19.5),
          { type: "rect", shape: { x: 191, y: 14, width: 14, height: 14 }, style: { fill: "#ddd" } },
          { type: "rect", shape: { x: 208, y: 14, width: 14, height: 14 }, style: { fill: "#ddd" } },
          { type: "ring", shape: { cx: 198, cy: 21, r: 4.5, r0: 3 }, style: { fill: "#fff" } },
          { type: "circle", shape: { cx: 198, cy: 21, r: 1.4 }, style: { fill: "#fff" } },
          { type: "ring", shape: { cx: 215, cy: 21, r: 4.5, r0: 1.8 }, style: { fill: "#fff" } },
          txt(230, 21, "O", "#555", 14), txt(242, 21, "8348.0", "#6b2b20", 14),
          txt(296, 21, "H", "#555", 14), txt(308, 21, "8348.0", "#6b2b20", 14),
          txt(362, 21, "B", "#555", 14), txt(373, 21, "8337.8", "#6b2b20", 14),
          txt(427, 21, "C", "#555", 14), txt(438, 21, "8338.2", "#6b2b20", 14),
          txt(8, 42, "SAR", "#666", 11), tri(33, 41), ...toolIcons(50, 36),
          txt(8, 62, "MA", "#666", 11), tri(29, 61), ...toolIcons(46, 56),
          txt(8, 82, "BB", "#666", 11), tri(26, 81), ...toolIcons(44, 76),
          txt(8, 491, "MACD", "#666", 11), tri(44, 490), ...toolIcons(60, 485),
          { type: "group", style: {}, children: [...toolIcons(79, 539), tri(62, 544)] },
          txt(8, 545, "Stoch RSI", "#555", 11),
          { type: "text", x: 15, y: 447, originX: 15, scaleX: 0.92, style: { text: "Investing", fill: "#111", stroke: "#111", lineWidth: 0.4, font: `bold 22.5px ${FONT}`, textVerticalAlign: "middle" } },
          { type: "circle", shape: { cx: 77.5, cy: 438, r: 1.8 }, style: { fill: "#f39c28" } },
          txt(107, 449, ".com", "#555", 13.5),
        ] },
      ],
    };
    chart.setOption(option);
    return () => chart.dispose();
  }, []);
  return <div ref={ref} style={{ width: 985, height: 613 }} />;
}
